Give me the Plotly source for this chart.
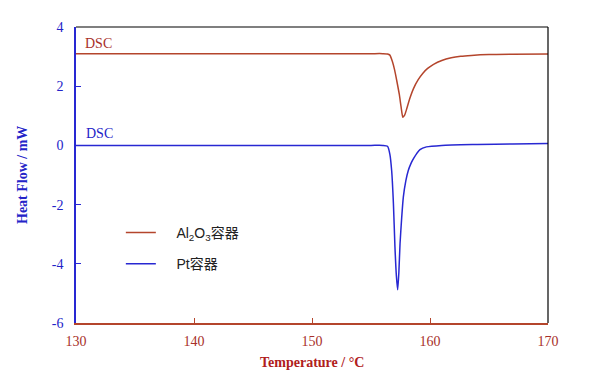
import plotly.graph_objects as go

# Al2O3 container DSC curve (temperature °C, heat flow mW)
al_temp = [130, 140, 150, 155, 156.0, 156.4, 156.6, 156.8, 157.0, 157.2, 157.4, 157.55, 157.7, 157.85,
           158.0, 158.3, 158.6, 159.0, 159.4, 159.8, 160.3, 161.0, 161.8, 162.6, 163.5, 165.0, 167.0, 170]
al_flow = [3.10, 3.10, 3.10, 3.10, 3.10, 3.09, 3.05, 2.85, 2.55, 2.15, 1.72, 1.30, 0.95, 1.02,
           1.20, 1.60, 1.92, 2.22, 2.44, 2.60, 2.74, 2.87, 2.96, 3.01, 3.04, 3.07, 3.08, 3.09]

# Pt container DSC curve
pt_temp = [130, 140, 150, 155, 156.0, 156.4, 156.6, 156.75, 156.9, 157.03, 157.15, 157.26, 157.36, 157.46,
           157.6, 157.74, 157.95, 158.16, 158.4, 158.6, 158.9, 159.15, 159.7, 161.0, 164.0, 167.0, 170]
pt_flow = [0.00, 0.00, 0.00, 0.00, 0.00, -0.03, -0.30, -0.85, -1.97, -3.43, -4.40, -4.88, -4.30, -3.32,
           -2.45, -1.75, -1.20, -0.85, -0.60, -0.45, -0.26, -0.14, -0.05, 0.00, 0.03, 0.05, 0.06]

x_ticks = [130, 140, 150, 160, 170]
y_ticks = [-6, -4, -2, 0, 2, 4]
y_tick_labels = ["-6", "-4", "-2", "0", "2", "4"]

RED = "#b4452c"
BLUE = "#2828d2"
RED_TXT = "#a8302a"
BLUE_TXT = "#2323c8"

fig = go.Figure()
fig.add_trace(go.Scatter(x=al_temp, y=al_flow, mode="lines", name="\u00a0\u00a0\u00a0\u00a0Al<sub>2</sub>O<sub>3</sub>容器",
                         line=dict(color=RED, width=1.5, shape="spline", smoothing=0.6), legendgroup="a"))
fig.add_trace(go.Scatter(x=pt_temp, y=pt_flow, mode="lines", name="\u00a0\u00a0\u00a0\u00a0Pt容器",
                         line=dict(color=BLUE, width=1.5, shape="spline", smoothing=0.6), legendgroup="b"))

serif = "Liberation Serif, Times New Roman, serif"

fig.update_layout(
    width=592, height=373,
    margin=dict(l=68, r=52, t=19, b=58),
    plot_bgcolor="white", paper_bgcolor="white",
    showlegend=True,
    legend=dict(x=0.095, y=0.252, xanchor="left", yanchor="middle",
                font=dict(family="Liberation Sans, Noto Sans CJK SC, sans-serif", size=14, color="#222"),
                bgcolor="rgba(0,0,0,0)", tracegroupgap=10),
    xaxis=dict(range=[130, 170], tickvals=x_ticks, ticks="inside", ticklen=5, tickcolor=RED,
               showline=True, linecolor=RED, linewidth=1.5, showgrid=False, zeroline=False,
               automargin=False, ticklabelstandoff=4,
               tickfont=dict(family=serif, size=14, color=RED_TXT)),
    yaxis=dict(range=[-6, 4], tickvals=y_ticks, ticktext=y_tick_labels, ticks="inside", ticklen=5,
               tickcolor=BLUE, automargin=False, ticklabelstandoff=8,
               showline=True, linecolor=BLUE, linewidth=1.5, showgrid=False, zeroline=False,
               tickfont=dict(family=serif, size=14, color=BLUE_TXT)),
)

# axis titles
fig.add_annotation(text="<b>Temperature / °C</b>", xref="paper", yref="paper", x=0.5, y=0,
                   yshift=-39, showarrow=False, xanchor="center", yanchor="middle",
                   font=dict(family=serif, size=14, color="#b0201c"))
fig.add_annotation(text="<b>Heat Flow / mW</b>", xref="paper", yref="paper", x=0, y=0.5,
                   xshift=-54, showarrow=False, textangle=-90, xanchor="center", yanchor="middle",
                   font=dict(family=serif, size=14, color=BLUE_TXT))

# black top/right frame
fig.add_shape(type="line", xref="paper", yref="paper", x0=0, x1=1, y0=1, y1=1, line=dict(color="black", width=1.2))
fig.add_shape(type="line", xref="paper", yref="paper", x0=1, x1=1, y0=0, y1=1, line=dict(color="black", width=1.2))

fig.add_annotation(text="DSC", x=130.6, y=al_flow[0], xanchor="left", yanchor="bottom", showarrow=False,
                   yshift=1, font=dict(family=serif, size=14, color="#a8302a"))
fig.add_annotation(text="DSC", x=130.7, y=pt_flow[0], xanchor="left", yanchor="bottom", showarrow=False,
                   yshift=2, font=dict(family=serif, size=14, color=BLUE_TXT))

fig.write_html("out.html")
